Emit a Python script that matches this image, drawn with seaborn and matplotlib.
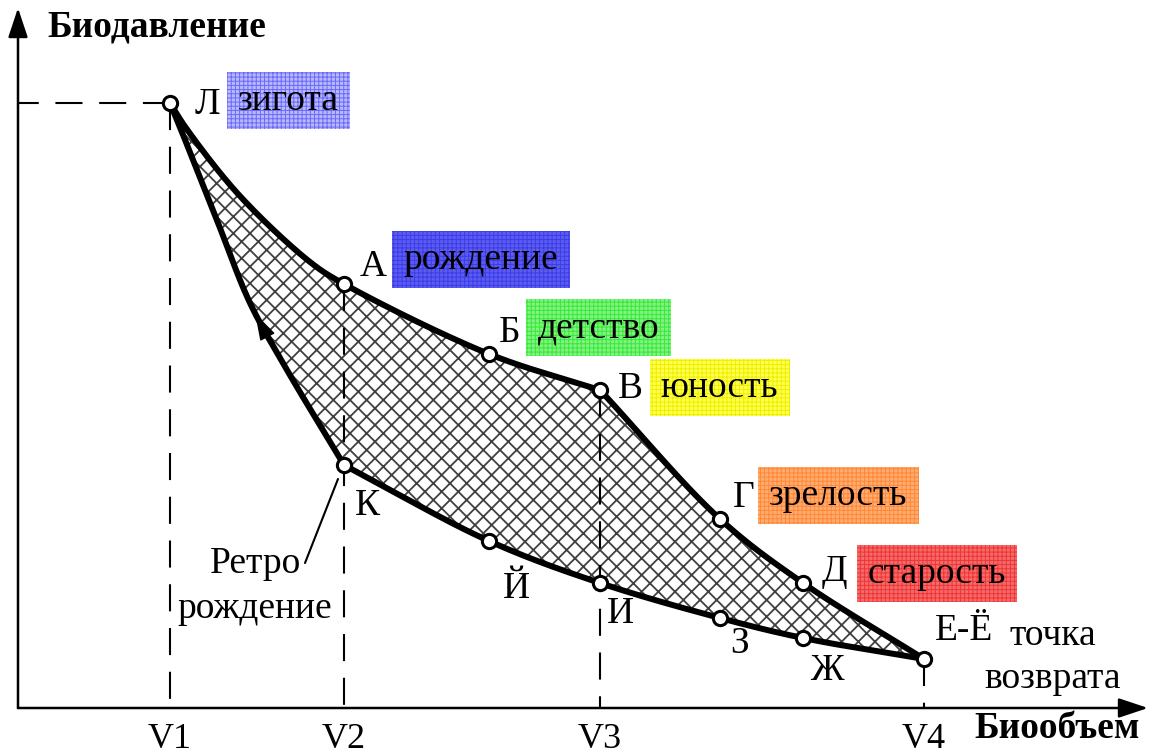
import numpy as np
import matplotlib
matplotlib.use("Agg")
import matplotlib.pyplot as plt
import seaborn as sns
from matplotlib.patches import FancyArrowPatch

# ---------------- data (biovolume V, biopressure P; arbitrary units) ----------------
volume_names = ["V1", "V2", "V3", "V4"]
volume_values = [1.52, 3.26, 5.82, 9.06]

point_names = ["Л", "А", "Б", "В", "Г", "Д", "Е-Ё", "Ж", "З", "И", "Й", "К"]
point_v = [1.52, 3.26, 4.71, 5.82, 7.02, 7.85, 9.06, 7.85, 7.02, 5.82, 4.71, 3.26]
point_p = [6.05, 4.24, 3.54, 3.18, 1.89, 1.25, 0.49, 0.70, 0.90, 1.25, 1.67, 2.43]

# traces of the cycle branches
curve1_v = [1.52, 1.68, 2.21, 2.92, 3.26, 4.71, 5.82]   # Л -> А -> Б -> В
curve1_p = [6.05, 5.80, 5.13, 4.46, 4.24, 3.54, 3.18]
curve2_v = [5.82, 7.02, 7.85, 9.06]                       # В -> Г -> Д -> Е
curve2_p = [3.18, 1.89, 1.25, 0.49]
curve3_v = [9.06, 7.85, 7.02, 5.82, 4.71, 3.26]           # Е -> Ж -> З -> И -> Й -> К
curve3_p = [0.49, 0.70, 0.90, 1.25, 1.67, 2.43]
curve4_v = [3.26, 2.69, 2.32, 2.02, 1.76, 1.52]           # К -> Л (ретро рождение)
curve4_p = [2.43, 3.38, 4.05, 4.80, 5.46, 6.05]

stage_labels = ["зигота", "рождение", "детство", "юность", "зрелость", "старость"]
stage_points = ["Л", "А", "Б", "В", "Г", "Д"]
stage_colors = ["#b8b8ff", "#5c5cf0", "#80f480", "#ffff50", "#ffac70", "#f46a6a"]
stage_grid = ["#6a6af8", "#3c3ce8", "#3ce63c", "#eeee00", "#ff8838", "#f03434"]

x_title = "Биообъем"
y_title = "Биодавление"
return_lines = ["точка", "возврата"]
retro_lines = ["Ретро", "рождение"]

# ---------------- layout (pixel offsets of labels from their points) ----------------
letter_offsets = {"Л": (25, -11), "А": (16, 8), "Б": (10, 12), "В": (18, -8),
                  "Г": (13, 12), "Д": (19, 2), "Е-Ё": (11, 19), "Ж": (7, -42),
                  "З": (10, -35), "И": (7, -40), "Й": (14, -57), "К": (11, -50)}
stage_offsets = [(118.5, 2.5), (137, 24.5), (109.5, 26), (119.5, 2), (118.5, 23.5), (134, 9.5)]

sns.set_theme(style="white")
plt.rcParams["font.family"] = ["Liberation Serif", "DejaVu Serif"]
plt.rcParams["text.color"] = "black"
plt.rcParams["hatch.linewidth"] = 1.3
FS = 27


def catmull_rom(xs, ys, n=40, alpha=0.5):
    P = np.column_stack([xs, ys]).astype(float)
    P = np.vstack([2 * P[0] - P[1], P, 2 * P[-1] - P[-2]])
    out = []
    for i in range(1, len(P) - 2):
        p0, p1, p2, p3 = P[i - 1], P[i], P[i + 1], P[i + 2]
        t0 = 0.0
        t1 = t0 + np.linalg.norm(p1 - p0) ** alpha
        t2 = t1 + np.linalg.norm(p2 - p1) ** alpha
        t3 = t2 + np.linalg.norm(p3 - p2) ** alpha
        t = np.linspace(t1, t2, n)[:, None]
        A1 = (t1 - t) / (t1 - t0) * p0 + (t - t0) / (t1 - t0) * p1
        A2 = (t2 - t) / (t2 - t1) * p1 + (t - t1) / (t2 - t1) * p2
        A3 = (t3 - t) / (t3 - t2) * p2 + (t - t2) / (t3 - t2) * p3
        B1 = (t2 - t) / (t2 - t0) * A1 + (t - t0) / (t2 - t0) * A2
        B2 = (t3 - t) / (t3 - t1) * A2 + (t - t1) / (t3 - t1) * A3
        C = (t2 - t) / (t2 - t1) * B1 + (t - t1) / (t2 - t1) * B2
        out.append(C if i == 1 else C[1:])
    return np.vstack(out)


fig = plt.figure(figsize=(11.55, 7.54), dpi=100)
ax = fig.add_axes([0, 0, 1, 1])
ax.set_xlim(-0.18, 11.37)
ax.set_ylim(-0.46, 7.08)
ax.axis("off")

c1 = catmull_rom(curve1_v, curve1_p)
c2 = catmull_rom(curve2_v, curve2_p)
c3 = catmull_rom(curve3_v, curve3_p)
c4 = catmull_rom(curve4_v, curve4_p)

# hatched cycle area
poly = np.vstack([c1, c2[1:], c3[1:], c4[1:]])
ax.fill(poly[:, 0], poly[:, 1], facecolor="white", edgecolor="#404040",
        hatch="xx", linewidth=0, zorder=1)

# dashed guide lines
pts = dict(zip(point_names, zip(point_v, point_p)))
dash = (0, (13, 8))
ax.plot([pts["Л"][0], 0], [pts["Л"][1], pts["Л"][1]], color="black", lw=1.5,
        linestyle=dash, zorder=2)
guide_tops = ["Л", "А", "В", "Е-Ё"]
for name, v in zip(guide_tops, volume_values):
    ax.plot([v, v], [pts[name][1], 0], color="black", lw=1.5, linestyle=dash, zorder=2)

# cycle branches
for c in (c1, c2, c3, c4):
    sns.lineplot(x=c[:, 0], y=c[:, 1], sort=False, estimator=None, color="black",
                 linewidth=4.3, ax=ax, zorder=3, solid_joinstyle="round",
                 solid_capstyle="round")

# direction arrow on the retro branch
i_tip = int(np.argmin(np.abs(c4[:, 1] - 3.95)))
tip = c4[i_tip]
tail = c4[i_tip - 6]
ax.add_patch(FancyArrowPatch(posA=tail, posB=tip,
                             arrowstyle="-|>,head_length=0.85,head_width=0.26",
                             mutation_scale=20, color="black", lw=1,
                             shrinkA=0, shrinkB=0, zorder=4))

# stage points
sns.scatterplot(x=point_v, y=point_p, s=105, color="white", edgecolor="black",
                linewidth=2.2, zorder=5, ax=ax)

# letter labels
for name, v, p in zip(point_names, point_v, point_p):
    dx, dy = letter_offsets[name]
    ax.annotate(name, (v, p), xytext=(dx, dy), textcoords="offset pixels",
                ha="left", va="baseline", fontsize=FS, color="black", zorder=6)

# stage boxes
for lab, pn, fc, gc, (dx, dy) in zip(stage_labels, stage_points, stage_colors,
                                     stage_grid, stage_offsets):
    t = ax.annotate(lab, pts[pn], xytext=(dx, dy), textcoords="offset pixels",
                    ha="center", va="center", fontsize=FS, color="black", zorder=6,
                    bbox=dict(boxstyle="square,pad=0.3", facecolor=fc,
                              edgecolor=gc, linewidth=0, hatch="++++"))
    bp = t.get_bbox_patch()
    if hasattr(bp, "set_hatch_linewidth"):
        bp.set_hatch_linewidth(0.7)

# point-of-return text
for line, dy in zip(return_lines, (14, -29)):
    ax.annotate(line, pts["Е-Ё"], xytext=(129, dy), textcoords="offset pixels",
                ha="center", va="baseline", fontsize=FS, color="black", zorder=6)
# retro-birth text with leader line
for line, y in zip(retro_lines, (1.35, 0.90)):
    ax.text(2.37, y, line, ha="center", va="baseline", fontsize=FS,
            color="black", zorder=6)
ax.plot([2.87, 3.20], [1.45, 2.29], color="black", lw=1.5, zorder=4)

# axes with arrows
arrow_kw = dict(arrowstyle="-|>,head_length=0.9,head_width=0.3",
                mutation_scale=20, color="black", lw=1.8, shrinkA=0, shrinkB=0)
ax.annotate("", xy=(0, 7.00), xytext=(0, 0), arrowprops=arrow_kw)
ax.annotate("", xy=(11.30, 0), xytext=(0, 0), arrowprops=arrow_kw)
ax.text(0.29, 6.71, y_title, ha="left", va="baseline", fontsize=FS,
        fontweight="bold", color="black")
ax.text(11.22, -0.30, x_title, ha="right", va="baseline", fontsize=FS,
        fontweight="bold", color="black")
for nm, v in zip(volume_names, volume_values):
    ax.text(v, -0.40, nm, ha="center", va="baseline", fontsize=26, color="black")

fig.savefig("out.png", dpi=100)
